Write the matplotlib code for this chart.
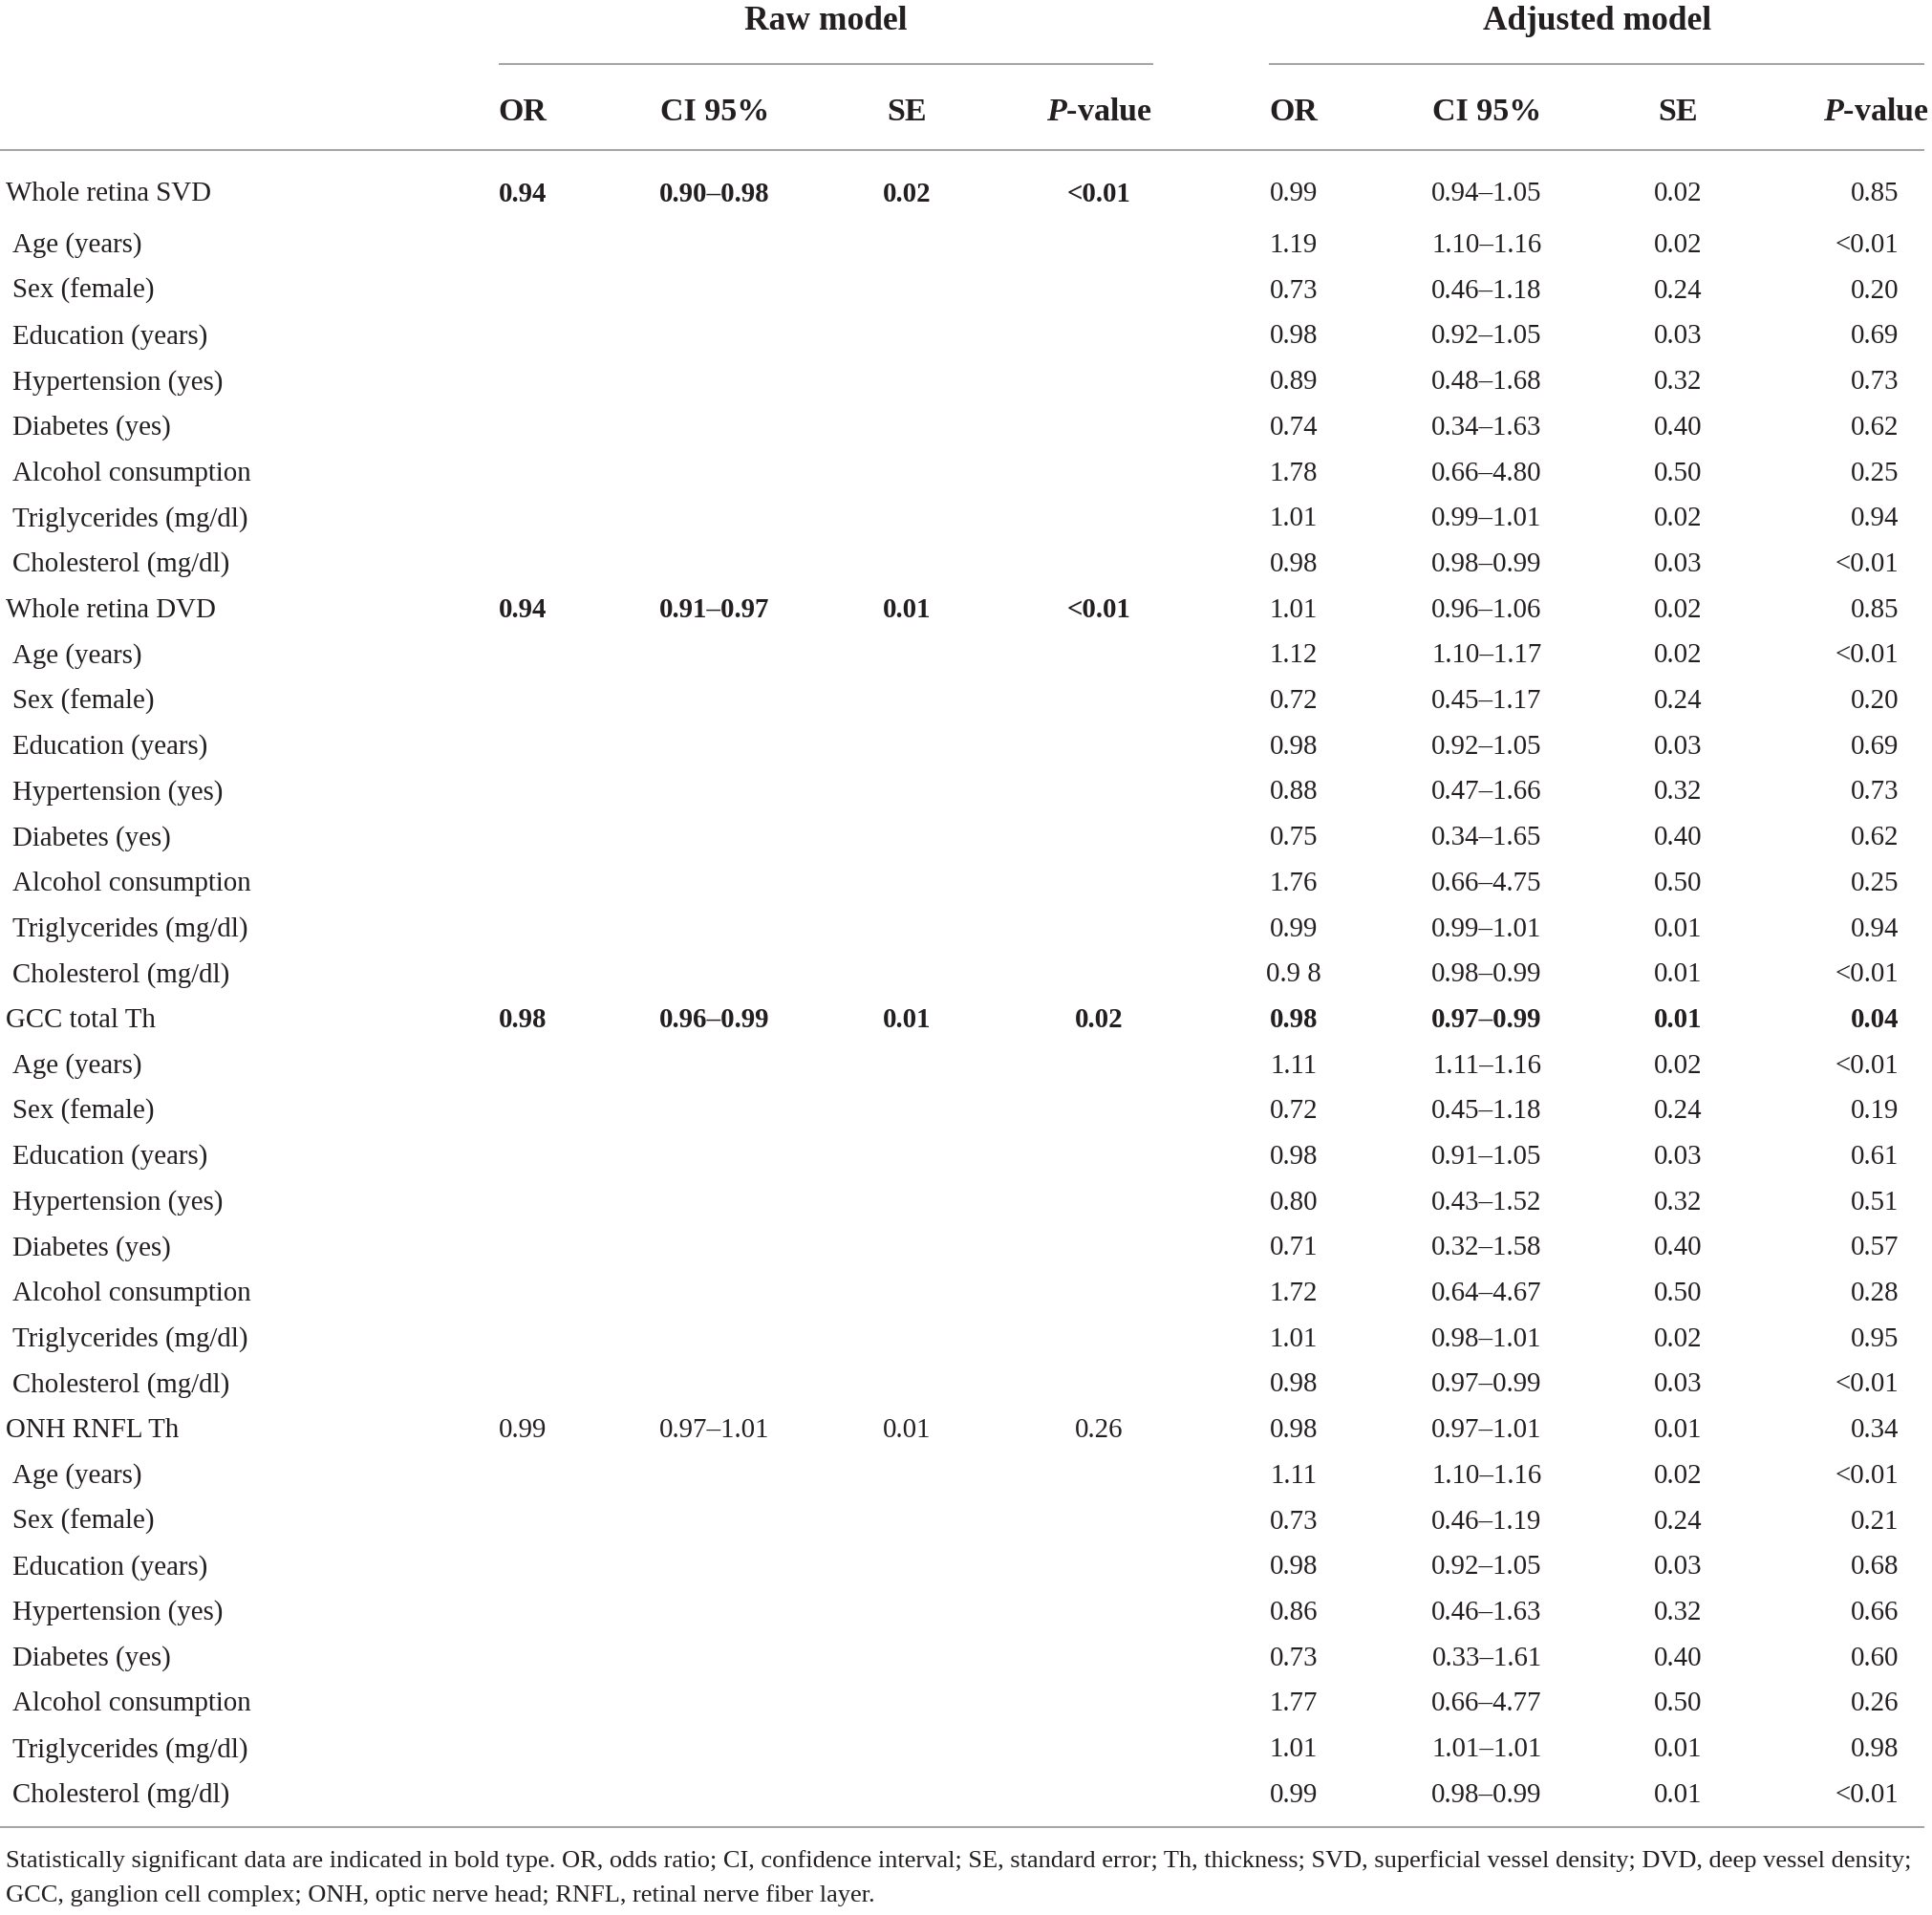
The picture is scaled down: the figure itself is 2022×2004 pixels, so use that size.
import matplotlib
matplotlib.use("Agg")
import matplotlib.pyplot as plt

plt.rcParams['font.family'] = ['Liberation Serif', 'DejaVu Serif']
plt.rcParams['mathtext.fontset'] = 'custom'
plt.rcParams['mathtext.it'] = 'Liberation Serif:italic:bold'
plt.rcParams['mathtext.rm'] = 'Liberation Serif:bold'

# ---- table data ----
groups = ["Whole retina SVD", "Whole retina DVD", "GCC total Th", "ONH RNFL Th"]
covariates = ["Age (years)", "Sex (female)", "Education (years)", "Hypertension (yes)",
              "Diabetes (yes)", "Alcohol consumption", "Triglycerides (mg/dl)",
              "Cholesterol (mg/dl)"]

raw_or = ["0.94", "0.94", "0.98", "0.99"]
raw_ci = ["0.90-0.98", "0.91-0.97", "0.96-0.99", "0.97-1.01"]
raw_se = ["0.02", "0.01", "0.01", "0.01"]
raw_p = ["<0.01", "<0.01", "0.02", "0.26"]
raw_bold = [True, True, True, False]

adj_or = [
    ["0.99", "1.19", "0.73", "0.98", "0.89", "0.74", "1.78", "1.01", "0.98"],
    ["1.01", "1.12", "0.72", "0.98", "0.88", "0.75", "1.76", "0.99", "0.9 8"],
    ["0.98", "1.11", "0.72", "0.98", "0.80", "0.71", "1.72", "1.01", "0.98"],
    ["0.98", "1.11", "0.73", "0.98", "0.86", "0.73", "1.77", "1.01", "0.99"],
]
adj_ci = [
    ["0.94-1.05", "1.10-1.16", "0.46-1.18", "0.92-1.05", "0.48-1.68", "0.34-1.63", "0.66-4.80", "0.99-1.01", "0.98-0.99"],
    ["0.96-1.06", "1.10-1.17", "0.45-1.17", "0.92-1.05", "0.47-1.66", "0.34-1.65", "0.66-4.75", "0.99-1.01", "0.98-0.99"],
    ["0.97-0.99", "1.11-1.16", "0.45-1.18", "0.91-1.05", "0.43-1.52", "0.32-1.58", "0.64-4.67", "0.98-1.01", "0.97-0.99"],
    ["0.97-1.01", "1.10-1.16", "0.46-1.19", "0.92-1.05", "0.46-1.63", "0.33-1.61", "0.66-4.77", "1.01-1.01", "0.98-0.99"],
]
adj_se = [
    ["0.02", "0.02", "0.24", "0.03", "0.32", "0.40", "0.50", "0.02", "0.03"],
    ["0.02", "0.02", "0.24", "0.03", "0.32", "0.40", "0.50", "0.01", "0.01"],
    ["0.01", "0.02", "0.24", "0.03", "0.32", "0.40", "0.50", "0.02", "0.03"],
    ["0.01", "0.02", "0.24", "0.03", "0.32", "0.40", "0.50", "0.01", "0.01"],
]
adj_p = [
    ["0.85", "<0.01", "0.20", "0.69", "0.73", "0.62", "0.25", "0.94", "<0.01"],
    ["0.85", "<0.01", "0.20", "0.69", "0.73", "0.62", "0.25", "0.94", "<0.01"],
    ["0.04", "<0.01", "0.19", "0.61", "0.51", "0.57", "0.28", "0.95", "<0.01"],
    ["0.34", "<0.01", "0.21", "0.68", "0.66", "0.60", "0.26", "0.98", "<0.01"],
]
adj_bold = [False, False, True, False]  # only the group row of GCC is bold

col_heads = ["OR", "CI 95%", "SE", r"$\mathit{P}$-value"]
footnote = ["Statistically significant data are indicated in bold type. OR, odds ratio; CI, confidence interval; "
            "SE, standard error; Th, thickness; SVD, superficial vessel density; DVD, deep vessel density;",
            "GCC, ganglion cell complex; ONH, optic nerve head; RNFL, retinal nerve fiber layer."]

# ---- layout (pixel coords) ----
W, H = 2022, 2004
ink = "#231f20"
rule = "#a6a6a6"
fs = 20.8
hfs = 24.5

fig = plt.figure(figsize=(W / 100, H / 100), dpi=100)
ax = fig.add_axes([0, 0, 1, 1])
ax.set_xlim(0, W)
ax.set_ylim(H, 0)
ax.axis("off")

raw_x = [547, 748, 949, 1150]
adj_x = [1354, 1556, 1756, 1987]

ax.text(864, 22, "Raw model", ha="center", va="center", fontsize=hfs + 1, fontweight="bold", color=ink)
ax.text(1672, 22, "Adjusted model", ha="center", va="center", fontsize=hfs + 1, fontweight="bold", color=ink)
ax.plot([523, 1206], [67, 67], color=rule, lw=1.5)
ax.plot([1329, 2013], [67, 67], color=rule, lw=1.5)

for i, h in enumerate(col_heads):
    ax.text(raw_x[i], 117, h, ha="center", va="center", fontsize=hfs, fontweight="bold", color=ink)
    if i < 3:
        ax.text(adj_x[i], 117, h, ha="center", va="center", fontsize=hfs, fontweight="bold", color=ink)
    else:
        ax.text(2019, 117, h, ha="right", va="center", fontsize=hfs, fontweight="bold", color=ink)
ax.plot([0, 2013], [157, 157], color=rule, lw=1.5)

row_gap = 47.7
for g in range(len(groups)):
    for k in range(9):
        r = g * 9 + k
        y = 203 if r == 0 else 257 + (r - 1) * row_gap
        if k == 0:
            ax.text(6, y, groups[g], ha="left", va="center", fontsize=fs, color=ink)
            wr = "bold" if raw_bold[g] else "normal"
            for x, v in zip(raw_x, [raw_or[g], raw_ci[g], raw_se[g], raw_p[g]]):
                ax.text(x, y, v.replace("-", "\u2013"), ha="center", va="center",
                        fontsize=fs, fontweight=wr, color=ink)
            wa = "bold" if adj_bold[g] else "normal"
        else:
            ax.text(13, y, covariates[k - 1], ha="left", va="center", fontsize=fs, color=ink)
            wa = "normal"
        vals = [adj_or[g][k], adj_ci[g][k].replace("-", "\u2013"), adj_se[g][k], adj_p[g][k]]
        for i, v in enumerate(vals):
            ax.text(adj_x[i], y, v, ha="right" if i == 3 else "center", va="center",
                    fontsize=fs, fontweight=wa, color=ink)

ax.plot([0, 2013], [1912, 1912], color=rule, lw=1.5)
ax.text(6, 1948, footnote[0], ha="left", va="center", fontsize=19, color=ink)
ax.text(6, 1984, footnote[1], ha="left", va="center", fontsize=19, color=ink)

fig.savefig("out.png", dpi=100, facecolor="white")
